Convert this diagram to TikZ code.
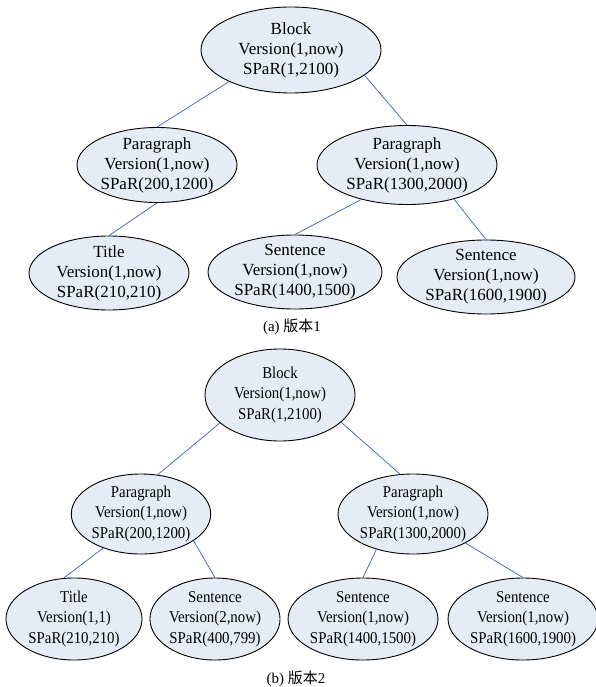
\documentclass[tikz,border=0pt]{standalone}
\usepackage{fontspec}
\setmainfont{Liberation Serif}
\newfontfamily\cjk{Noto Sans CJK SC}
\newfontfamily\narrowserif[FakeStretch=0.9]{Liberation Serif}
\usetikzlibrary{shapes.geometric}
\definecolor{elemfill}{RGB}{230,236,246}
\definecolor{linkblue}{RGB}{70,114,196}
\begin{document}
\begin{tikzpicture}[x=1pt, y=-1pt,
    elem/.style={ellipse, draw, line width=0.9pt, fill=elemfill, inner sep=0pt, inner ysep=-4pt,
      align=center, font=\fontsize{17}{20}\selectfont},
    elemb/.style={elem, font=\narrowserif\fontsize{16.5}{20.5}\selectfont},
    link/.style={linkblue, line width=0.8pt},
    capt/.style={font=\fontsize{15}{18}\selectfont}]
    \useasboundingbox (0,0) rectangle (596,687);
    \node[elem, minimum width=180, minimum height=86] (blk1) at (291,50) {Block\\Version(1,now)\\SPaR(1,2100)};
    \node[elem, minimum width=160, minimum height=75] (parL1) at (157,165) {Paragraph\\Version(1,now)\\SPaR(200,1200)};
    \node[elem, minimum width=180, minimum height=79] (parR1) at (407,165) {Paragraph\\Version(1,now)\\SPaR(1300,2000)};
    \node[elem, minimum width=160, minimum height=74] (tit1) at (109,273) {Title\\Version(1,now)\\SPaR(210,210)};
    \node[elem, minimum width=174, minimum height=74] (senA1) at (295,272) {Sentence\\Version(1,now)\\SPaR(1400,1500)};
    \node[elem, minimum width=178, minimum height=74] (senB1) at (486,277) {Sentence\\Version(1,now)\\SPaR(1600,1900)};
    \draw[link] (blk1.207) -- (parL1.north);
    \draw[link] (blk1.341) -- (parR1.north);
    \draw[link] (parL1.south) -- (tit1.north);
    \draw[link] (parR1.217) -- (senA1.north);
    \draw[link] (parR1.324) -- (senB1.north);
    \node[capt] (capa) at (292,327) {(a) {\cjk 版本}1};
    \node[elemb, minimum width=150, minimum height=92] (blk2) at (280,395) {Block\\Version(1,now)\\SPaR(1,2100)};
    \node[elemb, minimum width=136, minimum height=80] (parL2) at (141,514) {Paragraph\\Version(1,now)\\SPaR(200,1200)};
    \node[elemb, minimum width=150, minimum height=80] (parR2) at (413,514) {Paragraph\\Version(1,now)\\SPaR(1300,2000)};
    \node[elemb, minimum width=136, minimum height=82] (tit2) at (74,619) {Title\\Version(1,1)\\SPaR(210,210)};
    \node[elemb, minimum width=128, minimum height=82] (senA2) at (215,619) {Sentence\\Version(2,now)\\SPaR(400,799)};
    \node[elemb, minimum width=146, minimum height=82] (senB2) at (363,619) {Sentence\\Version(1,now)\\SPaR(1400,1500)};
    \node[elemb, minimum width=144, minimum height=82] (senC2) at (523,619) {Sentence\\Version(1,now)\\SPaR(1600,1900)};
    \draw[link] (blk2.205) -- (parL2.67);
    \draw[link] (blk2.336) -- (parR2.108);
    \draw[link] (parL2.222) -- (tit2.104);
    \draw[link] (parL2.333) -- (senA2.north);
    \draw[link] (parR2.224) -- (senB2.north);
    \draw[link] (parR2.331) -- (senC2.north);
    \node[capt] (capb) at (296,679) {(b) {\cjk 版本}2};
\end{tikzpicture}
\end{document}
